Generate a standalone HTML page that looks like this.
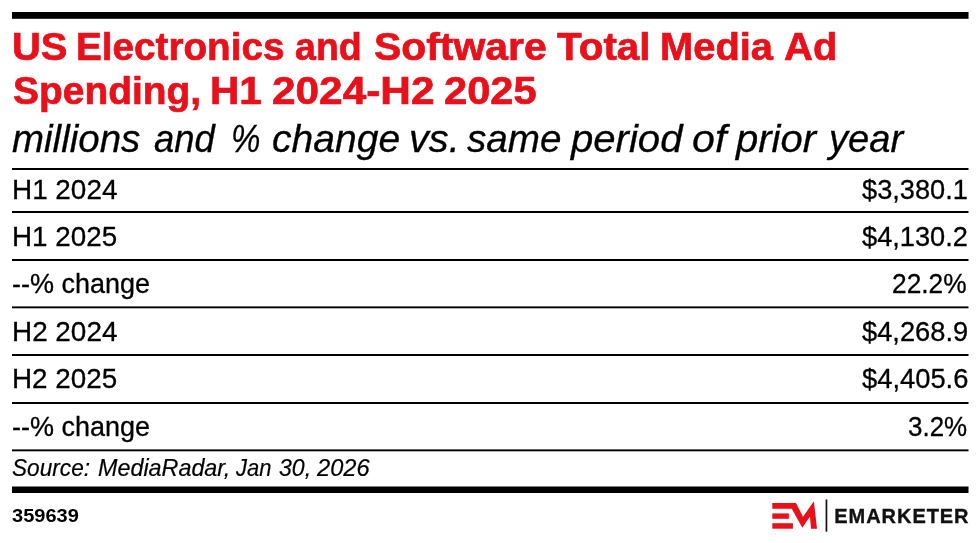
<!DOCTYPE html>
<html lang="en">
<head>
<meta charset="utf-8">
<title>US Electronics and Software Total Media Ad Spending</title>
<style>
html,body{margin:0;padding:0;background:#fff;}
body{width:980px;height:543px;position:relative;overflow:hidden;font-family:"Liberation Sans",sans-serif;color:#000;}
.abs{position:absolute;white-space:nowrap;line-height:1;}
.rule{position:absolute;left:12px;width:956.5px;background:#000;}
h1,h2,p{margin:0;padding:0;font-weight:normal;font-size:0;}
.w{position:absolute;white-space:nowrap;line-height:1;transform-origin:0 0;display:block;}
.t{line-height:44px;font-weight:bold;color:#e8111b;font-size:39.3px;-webkit-text-stroke:0.7px #e8111b;}
.s{line-height:42px;font-style:italic;font-size:38px;-webkit-text-stroke:0.3px #000;}
.c{line-height:26px;font-style:italic;font-size:23.5px;-webkit-text-stroke:0.2px #000;}
table,tbody,tr{display:block;margin:0;padding:0;border:0;}
td{padding:0;}
.r{line-height:30px;font-size:27px;-webkit-text-stroke:0.3px #000;}
.id{line-height:20px;font-weight:bold;font-size:18px;}
.brand{line-height:22px !important;font-weight:bold;font-size:20px;color:#111;letter-spacing:0.95px;transform-origin:0 0;-webkit-text-stroke:0.35px #111;}
</style>
</head>
<body>
<h1>
<span class="w t" style="left:12.1px;top:24px;transform:scaleX(1.0160)">US</span>
<span class="w t" style="left:76.1px;top:24px;transform:scaleX(0.9842)">Electronics</span>
<span class="w t" style="left:295.2px;top:24px;transform:scaleX(0.9557)">and</span>
<span class="w t" style="left:374.3px;top:24px;transform:scaleX(1.0402)">Software</span>
<span class="w t" style="left:556.8px;top:24px;transform:scaleX(1.0288)">Total</span>
<span class="w t" style="left:659.9px;top:24px;transform:scaleX(1.0144)">Media</span>
<span class="w t" style="left:784.1px;top:24px;transform:scaleX(1.0183)">Ad</span>
<span class="w t" style="left:12.5px;top:68px;transform:scaleX(0.9904)">Spending,</span>
<span class="w t" style="left:209.9px;top:68px;transform:scaleX(1.0342)">H1</span>
<span class="w t" style="left:271.6px;top:68px;transform:scaleX(1.0780)">2024-H2</span>
<span class="w t" style="left:443.9px;top:68px;transform:scaleX(1.0600)">2025</span>
</h1>
<h2>
<span class="w s" style="left:12.4px;top:118px;transform:scaleX(1.0127)">millions</span>
<span class="w s" style="left:153.9px;top:118px;transform:scaleX(0.9591)">and</span>
<span class="w s" style="left:230.6px;top:118px;transform:scaleX(0.8710)">%</span>
<span class="w s" style="left:271.8px;top:118px;transform:scaleX(1.0275)">change</span>
<span class="w s" style="left:408.7px;top:118px;transform:scaleX(1.0429)">vs.</span>
<span class="w s" style="left:467.0px;top:118px;transform:scaleX(1.0165)">same</span>
<span class="w s" style="left:570.6px;top:118px;transform:scaleX(1.0553)">period</span>
<span class="w s" style="left:692.0px;top:118px;transform:scaleX(1.0840)">of</span>
<span class="w s" style="left:736.3px;top:118px;transform:scaleX(1.0528)">prior</span>
<span class="w s" style="left:829.0px;top:118px;transform:scaleX(1.0030)">year</span>
</h2>

<table><tbody>
<tr><td class="w r lab" style="left:11.8px;top:175px;transform:scaleX(1.0323)">H1 2024</td><td class="w r val" style="left:861.8px;top:175px;transform:scaleX(1.0078)">$3,380.1</td></tr>
<tr><td class="w r lab" style="left:11.8px;top:222px;transform:scaleX(1.0296)">H1 2025</td><td class="w r val" style="left:861.8px;top:222px;transform:scaleX(1.0078)">$4,130.2</td></tr>
<tr><td class="w r lab" style="left:12.3px;top:269px;transform:scaleX(1.0003)">--% change</td><td class="w r val" style="left:891.8px;top:269px;transform:scaleX(0.9742)">22.2%</td></tr>
<tr><td class="w r lab" style="left:11.8px;top:317px;transform:scaleX(1.0323)">H2 2024</td><td class="w r val" style="left:861.8px;top:317px;transform:scaleX(1.0098)">$4,268.9</td></tr>
<tr><td class="w r lab" style="left:11.8px;top:364px;transform:scaleX(1.0296)">H2 2025</td><td class="w r val" style="left:861.7px;top:364px;transform:scaleX(1.0126)">$4,405.6</td></tr>
<tr><td class="w r lab" style="left:12.3px;top:412px;transform:scaleX(1.0003)">--% change</td><td class="w r val" style="left:907.5px;top:412px;transform:scaleX(0.9614)">3.2%</td></tr>
</tbody></table>
<p>
<span class="w c" style="left:12.3px;top:455px;transform:scaleX(0.9632)">Source:</span>
<span class="w c" style="left:98.0px;top:455px;transform:scaleX(0.9930)">MediaRadar,</span>
<span class="w c" style="left:236.2px;top:455px;transform:scaleX(0.9334)">Jan</span>
<span class="w c" style="left:278.8px;top:455px;transform:scaleX(0.9821)">30,</span>
<span class="w c" style="left:317.1px;top:455px;transform:scaleX(1.0054)">2026</span>
</p>
<div>
<span class="w id" style="left:12.2px;top:506px;transform:scaleX(1.1123)">359639</span>
</div>

<svg class="abs" style="left:0;top:0;" width="980" height="543" viewBox="0 0 980 543">
  <g fill="#000">
    <rect x="12" y="12" width="956.5" height="6.8"/>
    <rect x="12" y="168" width="956.5" height="2"/>
    <rect x="12" y="211" width="956.5" height="2"/>
    <rect x="12" y="259" width="956.5" height="2"/>
    <rect x="12" y="306.4" width="956.5" height="1.9"/>
    <rect x="12" y="354" width="956.5" height="2"/>
    <rect x="12" y="402" width="956.5" height="2"/>
    <rect x="12" y="449.4" width="956.5" height="1.9"/>
    <rect x="12" y="486.5" width="956.5" height="6.5"/>
  </g>
  <g fill="#e8111b">
    <polygon points="772.3,503 796,503 803,516.7 813.9,501.3 817,528.7 811,528.7 810,516.5 802.3,527.8 791.8,508.7 772.3,508.7"/>
    <rect x="772.3" y="513.4" width="16.6" height="5.4"/>
    <rect x="772.3" y="523.2" width="20.6" height="5.5"/>
  </g>
  <rect x="825.6" y="499.5" width="1.7" height="32.2" fill="#111"/>
</svg>
<div class="abs brand" id="brand" style="left:834.3px;top:505px;">EMARKETER</div>
</body>
</html>
